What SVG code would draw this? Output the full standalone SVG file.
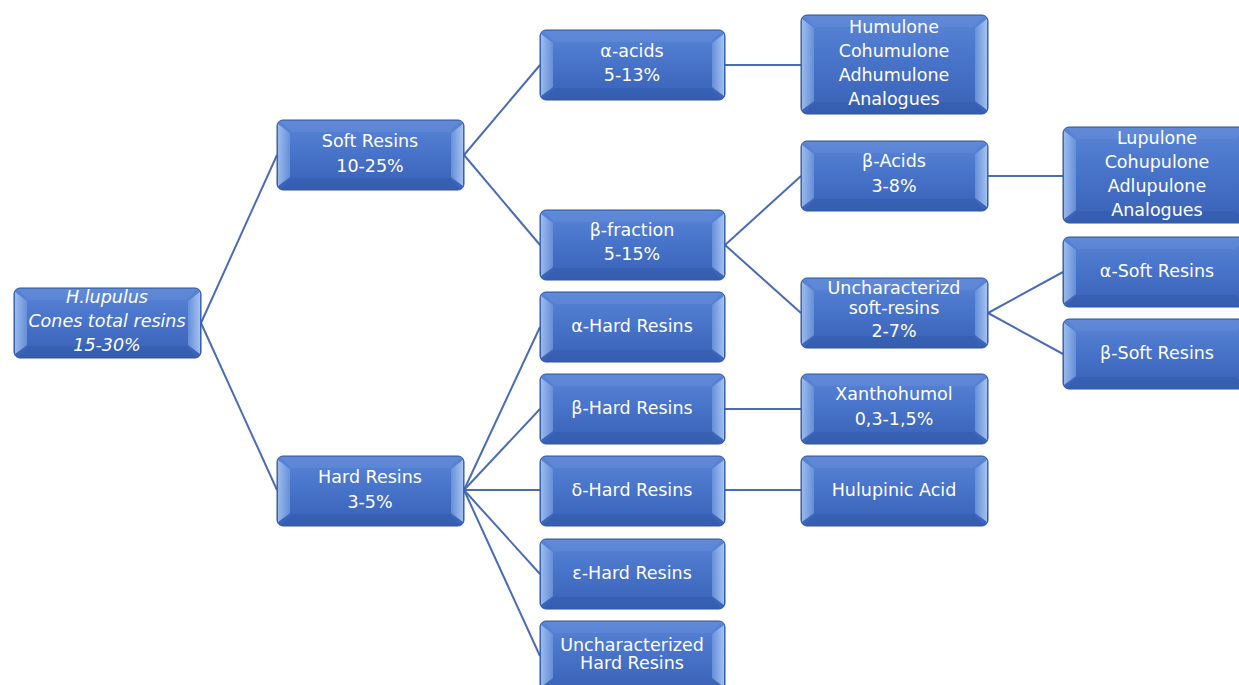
<svg xmlns="http://www.w3.org/2000/svg" width="1239" height="685" viewBox="0 0 1239 685">
<defs>
<linearGradient id="gFill" x1="0" y1="0" x2="0" y2="1">
<stop offset="0" stop-color="#5a85d6"/>
<stop offset="0.5" stop-color="#4672c8"/>
<stop offset="1" stop-color="#3a62b6"/>
</linearGradient>
<linearGradient id="gL" x1="0" y1="0" x2="1" y2="0">
<stop offset="0" stop-color="#a9c6f3"/>
<stop offset="1" stop-color="#6b94dc"/>
</linearGradient>
<linearGradient id="gR" x1="1" y1="0" x2="0" y2="0">
<stop offset="0" stop-color="#b4cff7"/>
<stop offset="1" stop-color="#6b94dc"/>
</linearGradient>
<style>
.box{fill:url(#gFill);stroke:#2f5597;stroke-width:1}
.bl{fill:url(#gL);opacity:0.85}
.br{fill:url(#gR);opacity:0.85}
.bt{fill:#6d96de;opacity:0.35}
.bb{fill:#2e58a8;opacity:0.4}
text{font-family:"DejaVu Sans","Liberation Sans",sans-serif;font-size:17.5px;fill:#ffffff;text-anchor:middle}
.it{font-style:italic}
.conn line{stroke:#4a6cb3;stroke-width:2}
</style>
</defs>
<rect width="1239" height="685" fill="#ffffff"/>
<g class="conn">
<line x1="201" y1="323" x2="277" y2="155"/>
<line x1="201" y1="323" x2="277" y2="490"/>
<line x1="464" y1="155" x2="540" y2="65"/>
<line x1="464" y1="155" x2="540" y2="245"/>
<line x1="725" y1="65" x2="801" y2="65"/>
<line x1="725" y1="245" x2="801" y2="176"/>
<line x1="725" y1="245" x2="801" y2="313"/>
<line x1="988" y1="176" x2="1063" y2="176"/>
<line x1="988" y1="313" x2="1063" y2="272"/>
<line x1="988" y1="313" x2="1063" y2="354"/>
<line x1="464" y1="490" x2="540" y2="327"/>
<line x1="464" y1="490" x2="540" y2="409"/>
<line x1="464" y1="490" x2="540" y2="490"/>
<line x1="464" y1="490" x2="540" y2="574"/>
<line x1="464" y1="490" x2="540" y2="656"/>
<line x1="725" y1="409" x2="801" y2="409"/>
<line x1="725" y1="490" x2="801" y2="490"/>
</g>
<g id="root">
<rect class="box" x="14" y="288" width="187" height="70" rx="6"/>
<polygon class="bt" points="18,289 197,289 187,300 28,300"/>
<polygon class="bb" points="18,357 197,357 187,346 28,346"/>
<polygon class="bl" points="15,292 27,301 27,345 15,354"/>
<polygon class="br" points="200,292 188,301 188,345 200,354"/>
<text class="it" x="107" y="303">H.lupulus</text>
<text class="it" x="107" y="327">Cones total resins</text>
<text class="it" x="107" y="351">15-30%</text>
</g>
<g id="soft">
<rect class="box" x="277" y="120" width="187" height="70" rx="6"/>
<polygon class="bt" points="281,121 460,121 450,132 291,132"/>
<polygon class="bb" points="281,189 460,189 450,178 291,178"/>
<polygon class="bl" points="278,124 290,133 290,177 278,186"/>
<polygon class="br" points="463,124 451,133 451,177 463,186"/>
<text x="370" y="147">Soft Resins</text>
<text x="370" y="172">10-25%</text>
</g>
<g id="hard">
<rect class="box" x="277" y="456" width="187" height="70" rx="6"/>
<polygon class="bt" points="281,457 460,457 450,468 291,468"/>
<polygon class="bb" points="281,525 460,525 450,514 291,514"/>
<polygon class="bl" points="278,460 290,469 290,513 278,522"/>
<polygon class="br" points="463,460 451,469 451,513 463,522"/>
<text x="370" y="483">Hard Resins</text>
<text x="370" y="508">3-5%</text>
</g>
<g id="aacids">
<rect class="box" x="540" y="30" width="185" height="70" rx="6"/>
<polygon class="bt" points="544,31 721,31 711,42 554,42"/>
<polygon class="bb" points="544,99 721,99 711,88 554,88"/>
<polygon class="bl" points="541,34 553,43 553,87 541,96"/>
<polygon class="br" points="724,34 712,43 712,87 724,96"/>
<text x="632" y="57">α-acids</text>
<text x="632" y="81">5-13%</text>
</g>
<g id="bfraction">
<rect class="box" x="540" y="210" width="185" height="70" rx="6"/>
<polygon class="bt" points="544,211 721,211 711,222 554,222"/>
<polygon class="bb" points="544,279 721,279 711,268 554,268"/>
<polygon class="bl" points="541,214 553,223 553,267 541,276"/>
<polygon class="br" points="724,214 712,223 712,267 724,276"/>
<text x="632" y="236">β-fraction</text>
<text x="632" y="260">5-15%</text>
</g>
<g id="ahard">
<rect class="box" x="540" y="292" width="185" height="70" rx="6"/>
<polygon class="bt" points="544,293 721,293 711,304 554,304"/>
<polygon class="bb" points="544,361 721,361 711,350 554,350"/>
<polygon class="bl" points="541,296 553,305 553,349 541,358"/>
<polygon class="br" points="724,296 712,305 712,349 724,358"/>
<text x="632" y="332">α-Hard Resins</text>
</g>
<g id="bhard">
<rect class="box" x="540" y="374" width="185" height="70" rx="6"/>
<polygon class="bt" points="544,375 721,375 711,386 554,386"/>
<polygon class="bb" points="544,443 721,443 711,432 554,432"/>
<polygon class="bl" points="541,378 553,387 553,431 541,440"/>
<polygon class="br" points="724,378 712,387 712,431 724,440"/>
<text x="632" y="414">β-Hard Resins</text>
</g>
<g id="dhard">
<rect class="box" x="540" y="456" width="185" height="70" rx="6"/>
<polygon class="bt" points="544,457 721,457 711,468 554,468"/>
<polygon class="bb" points="544,525 721,525 711,514 554,514"/>
<polygon class="bl" points="541,460 553,469 553,513 541,522"/>
<polygon class="br" points="724,460 712,469 712,513 724,522"/>
<text x="632" y="496">δ-Hard Resins</text>
</g>
<g id="ehard">
<rect class="box" x="540" y="539" width="185" height="70" rx="6"/>
<polygon class="bt" points="544,540 721,540 711,551 554,551"/>
<polygon class="bb" points="544,608 721,608 711,597 554,597"/>
<polygon class="bl" points="541,543 553,552 553,596 541,605"/>
<polygon class="br" points="724,543 712,552 712,596 724,605"/>
<text x="632" y="579">ε-Hard Resins</text>
</g>
<g id="uhard">
<rect class="box" x="540" y="621" width="185" height="70" rx="6"/>
<polygon class="bt" points="544,622 721,622 711,633 554,633"/>
<polygon class="bl" points="541,625 553,634 553,678 541,687"/>
<polygon class="br" points="724,625 712,634 712,678 724,687"/>
<text x="632" y="651">Uncharacterized</text>
<text x="632" y="669">Hard Resins</text>
</g>
<g id="humulone">
<rect class="box" x="801" y="15" width="187" height="99" rx="6"/>
<polygon class="bt" points="805,16 984,16 974,27 815,27"/>
<polygon class="bb" points="805,113 984,113 974,102 815,102"/>
<polygon class="bl" points="802,19 814,28 814,101 802,110"/>
<polygon class="br" points="987,19 975,28 975,101 987,110"/>
<text x="894" y="33">Humulone</text>
<text x="894" y="57">Cohumulone</text>
<text x="894" y="81">Adhumulone</text>
<text x="894" y="105">Analogues</text>
</g>
<g id="bacids">
<rect class="box" x="801" y="141" width="187" height="70" rx="6"/>
<polygon class="bt" points="805,142 984,142 974,153 815,153"/>
<polygon class="bb" points="805,210 984,210 974,199 815,199"/>
<polygon class="bl" points="802,145 814,154 814,198 802,207"/>
<polygon class="br" points="987,145 975,154 975,198 987,207"/>
<text x="894" y="167">β-Acids</text>
<text x="894" y="192">3-8%</text>
</g>
<g id="usoft">
<rect class="box" x="801" y="278" width="187" height="70" rx="6"/>
<polygon class="bt" points="805,279 984,279 974,290 815,290"/>
<polygon class="bb" points="805,347 984,347 974,336 815,336"/>
<polygon class="bl" points="802,282 814,291 814,335 802,344"/>
<polygon class="br" points="987,282 975,291 975,335 987,344"/>
<text x="894" y="294">Uncharacterizd</text>
<text x="894" y="314">soft-resins</text>
<text x="894" y="337">2-7%</text>
</g>
<g id="xantho">
<rect class="box" x="801" y="374" width="187" height="70" rx="6"/>
<polygon class="bt" points="805,375 984,375 974,386 815,386"/>
<polygon class="bb" points="805,443 984,443 974,432 815,432"/>
<polygon class="bl" points="802,378 814,387 814,431 802,440"/>
<polygon class="br" points="987,378 975,387 975,431 987,440"/>
<text x="894" y="400">Xanthohumol</text>
<text x="894" y="425">0,3-1,5%</text>
</g>
<g id="hulupinic">
<rect class="box" x="801" y="456" width="187" height="70" rx="6"/>
<polygon class="bt" points="805,457 984,457 974,468 815,468"/>
<polygon class="bb" points="805,525 984,525 974,514 815,514"/>
<polygon class="bl" points="802,460 814,469 814,513 802,522"/>
<polygon class="br" points="987,460 975,469 975,513 987,522"/>
<text x="894" y="496">Hulupinic Acid</text>
</g>
<g id="lupulone">
<rect class="box" x="1063" y="127" width="187" height="96" rx="6"/>
<polygon class="bt" points="1067,128 1246,128 1236,139 1077,139"/>
<polygon class="bb" points="1067,222 1246,222 1236,211 1077,211"/>
<polygon class="bl" points="1064,131 1076,140 1076,210 1064,219"/>
<text x="1157" y="144">Lupulone</text>
<text x="1157" y="168">Cohupulone</text>
<text x="1157" y="192">Adlupulone</text>
<text x="1157" y="216">Analogues</text>
</g>
<g id="asoft">
<rect class="box" x="1063" y="237" width="187" height="70" rx="6"/>
<polygon class="bt" points="1067,238 1246,238 1236,249 1077,249"/>
<polygon class="bb" points="1067,306 1246,306 1236,295 1077,295"/>
<polygon class="bl" points="1064,241 1076,250 1076,294 1064,303"/>
<text x="1157" y="277">α-Soft Resins</text>
</g>
<g id="bsoft">
<rect class="box" x="1063" y="319" width="187" height="70" rx="6"/>
<polygon class="bt" points="1067,320 1246,320 1236,331 1077,331"/>
<polygon class="bb" points="1067,388 1246,388 1236,377 1077,377"/>
<polygon class="bl" points="1064,323 1076,332 1076,376 1064,385"/>
<text x="1157" y="359">β-Soft Resins</text>
</g>
</svg>
